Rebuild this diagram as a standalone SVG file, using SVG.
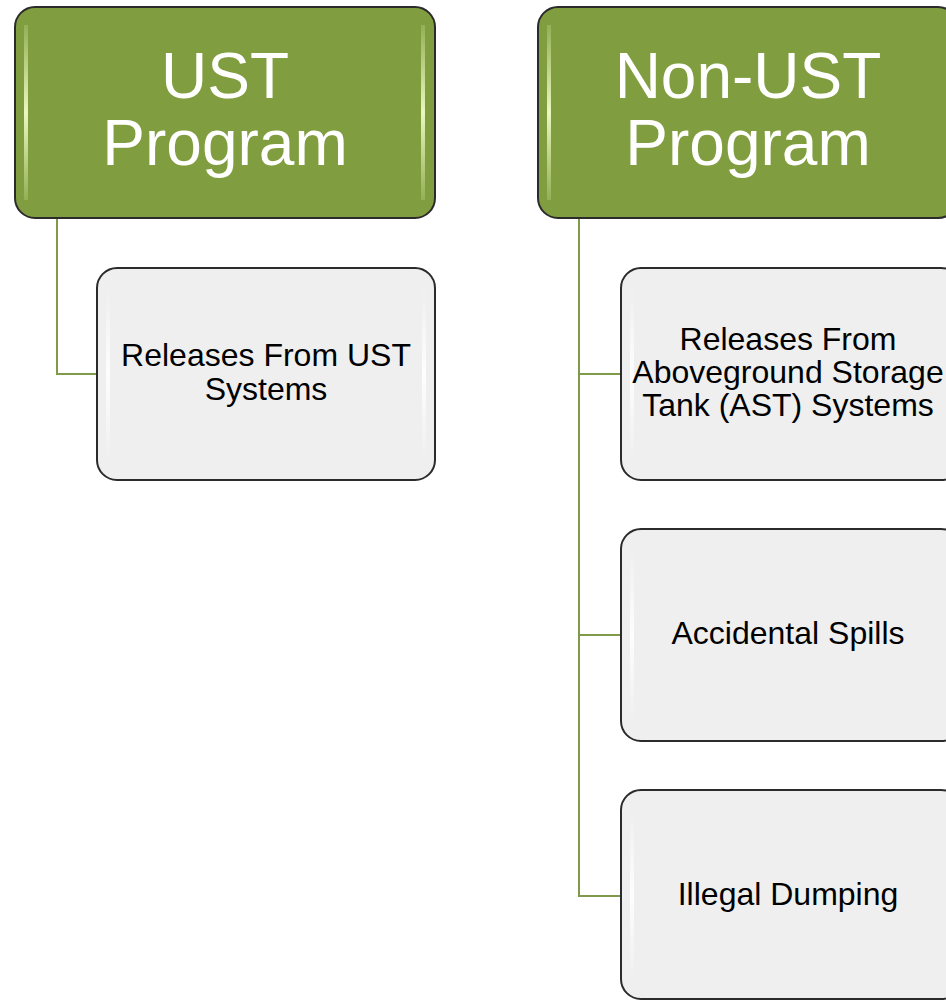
<svg xmlns="http://www.w3.org/2000/svg" width="946" height="1000" viewBox="0 0 946 1000">
<defs>
<linearGradient id="gl" x1="0" y1="0" x2="0" y2="1">
<stop offset="0" stop-color="#ffffff" stop-opacity="0"/>
<stop offset="0.5" stop-color="#ffffff" stop-opacity="0.9"/>
<stop offset="1" stop-color="#ffffff" stop-opacity="0"/>
</linearGradient>
<linearGradient id="glg" x1="0" y1="0" x2="0" y2="1">
<stop offset="0" stop-color="#e6f5b8" stop-opacity="0.2"/>
<stop offset="0.5" stop-color="#eaf8c0" stop-opacity="1"/>
<stop offset="1" stop-color="#e6f5b8" stop-opacity="0.2"/>
</linearGradient>
</defs>
<style>
.head{fill:#809e3f;stroke:#2b2b2b;stroke-width:2}
.child{fill:#efefef;stroke:#2b2b2b;stroke-width:2}
.ht{font-family:"Liberation Sans",Arial,sans-serif;font-size:64px;fill:#ffffff;text-anchor:middle}
.ct{font-family:"Liberation Sans",Arial,sans-serif;font-size:32px;fill:#000000;text-anchor:middle}
.conn{fill:none;stroke:#7f9a48;stroke-width:2}
</style>
<g id="connectors">
<path class="conn" d="M57,218 V374 H97"/>
<path class="conn" d="M579,218 V896 H621 M579,374 H621 M579,635 H621"/>
</g>
<g id="ust">
<rect class="head" x="15" y="7" width="420" height="211" rx="20"/>
<rect x="24" y="25" width="4" height="175" fill="url(#glg)"/>
<rect x="421" y="25" width="4" height="175" fill="url(#glg)"/>
<text class="ht" x="225" y="98">UST</text>
<text class="ht" x="225" y="165">Program</text>
</g>
<g id="nonust">
<rect class="head" x="538" y="7" width="420" height="211" rx="20"/>
<rect x="547" y="25" width="4" height="175" fill="url(#glg)"/>
<text class="ht" x="748" y="98">Non-UST</text>
<text class="ht" x="748" y="165">Program</text>
</g>
<g id="ust-releases">
<rect class="child" x="97" y="268" width="338" height="212" rx="20"/>
<rect x="106" y="286" width="4" height="176" fill="url(#gl)"/>
<rect x="422" y="286" width="4" height="176" fill="url(#gl)"/>
<text class="ct" x="266" y="366">Releases From UST</text>
<text class="ct" x="266" y="400">Systems</text>
</g>
<g id="ast-releases">
<rect class="child" x="621" y="268" width="340" height="212" rx="20"/>
<rect x="630" y="286" width="4" height="176" fill="url(#gl)"/>
<text class="ct" x="788" y="350">Releases From</text>
<text class="ct" x="788" y="383">Aboveground Storage</text>
<text class="ct" x="788" y="416">Tank (AST) Systems</text>
</g>
<g id="spills">
<rect class="child" x="621" y="529" width="340" height="212" rx="20"/>
<rect x="630" y="547" width="4" height="176" fill="url(#gl)"/>
<text class="ct" x="788" y="644">Accidental Spills</text>
</g>
<g id="dumping">
<rect class="child" x="621" y="790" width="340" height="209" rx="20"/>
<rect x="630" y="808" width="4" height="174" fill="url(#gl)"/>
<text class="ct" x="788" y="905">Illegal Dumping</text>
</g>
</svg>
